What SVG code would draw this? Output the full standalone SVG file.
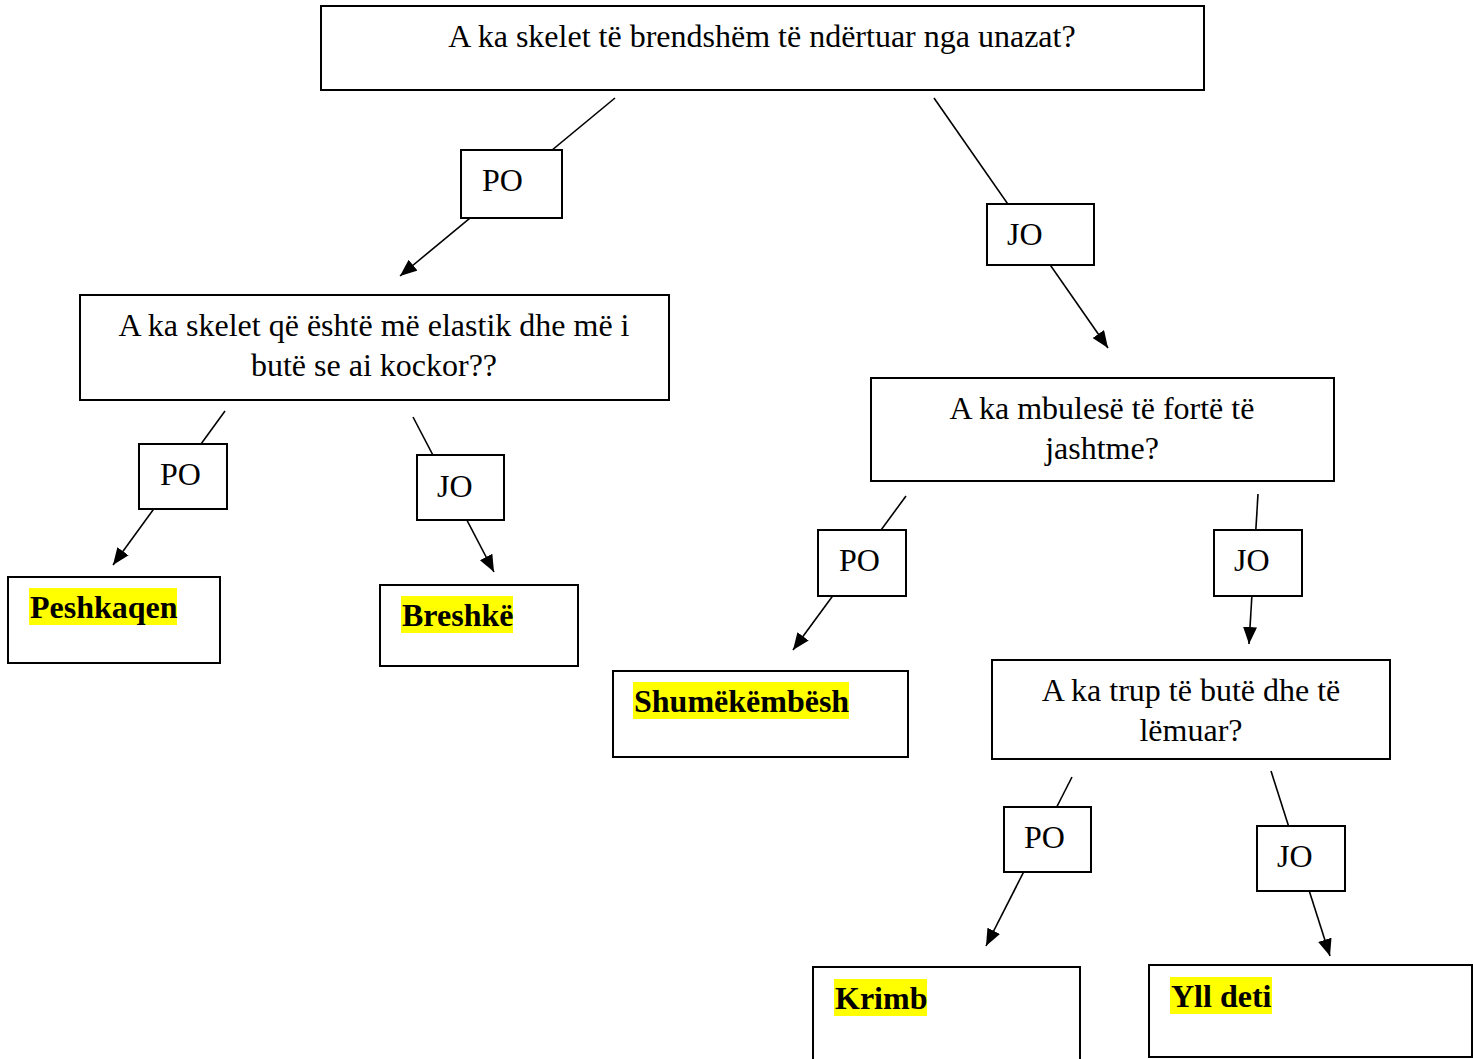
<svg xmlns="http://www.w3.org/2000/svg" width="1473" height="1059" viewBox="0 0 1473 1059">
<defs>
<marker id="arr" markerUnits="userSpaceOnUse" markerWidth="18" markerHeight="14" refX="17" refY="7" orient="auto">
<path d="M0,0 L17,7 L0,14 z" fill="#000"/>
</marker>
<style>
.box{fill:#fff;stroke:#000;stroke-width:2}
.lbl{fill:#fff;stroke:#000;stroke-width:2}
.t{font-family:"Liberation Serif","Times New Roman",serif;font-size:32px;fill:#000}
.c{text-anchor:middle}
.b{font-weight:bold}
.hl{fill:#ffff00}
.ln{stroke:#000;stroke-width:1.6;fill:none}
</style>
</defs>
<rect width="1473" height="1059" fill="#fff"/>
<g id="connectors">
<line class="ln" x1="615" y1="98" x2="400" y2="276" marker-end="url(#arr)"/>
<line class="ln" x1="934" y1="98" x2="1108" y2="348" marker-end="url(#arr)"/>
<line class="ln" x1="225" y1="411" x2="113" y2="565" marker-end="url(#arr)"/>
<line class="ln" x1="413" y1="417" x2="494" y2="572" marker-end="url(#arr)"/>
<line class="ln" x1="906" y1="496" x2="793" y2="650" marker-end="url(#arr)"/>
<line class="ln" x1="1258" y1="494" x2="1249" y2="644" marker-end="url(#arr)"/>
<line class="ln" x1="1072" y1="777" x2="986" y2="946" marker-end="url(#arr)"/>
<line class="ln" x1="1271" y1="771" x2="1330" y2="956" marker-end="url(#arr)"/>
</g>
<g id="q1">
<rect class="box" x="321" y="6" width="883" height="84"/>
<text class="t c" x="762" y="47">A ka skelet të brendshëm të ndërtuar nga unazat?</text>
</g>
<g id="l1"><rect class="lbl" x="461" y="150" width="101" height="68"/><text class="t" x="482" y="191">PO</text></g>
<g id="l2"><rect class="lbl" x="987" y="204" width="107" height="61"/><text class="t" x="1007" y="245">JO</text></g>
<g id="q2">
<rect class="box" x="80" y="295" width="589" height="105"/>
<text class="t c" x="374" y="336">A ka skelet që është më elastik dhe më i</text>
<text class="t c" x="374" y="376">butë se ai kockor??</text>
</g>
<g id="l3"><rect class="lbl" x="139" y="444" width="88" height="65"/><text class="t" x="160" y="485">PO</text></g>
<g id="l4"><rect class="lbl" x="417" y="455" width="87" height="65"/><text class="t" x="437" y="497">JO</text></g>
<g id="a1">
<rect class="box" x="8" y="577" width="212" height="86"/>
<rect class="hl" x="29" y="588" width="148" height="37"/>
<text class="t b" x="30" y="618">Peshkaqen</text>
</g>
<g id="a2">
<rect class="box" x="380" y="585" width="198" height="81"/>
<rect class="hl" x="401" y="596" width="112" height="37"/>
<text class="t b" x="402" y="626">Breshkë</text>
</g>
<g id="q3">
<rect class="box" x="871" y="378" width="463" height="103"/>
<text class="t c" x="1102" y="419">A ka mbulesë të fortë të</text>
<text class="t c" x="1102" y="459">jashtme?</text>
</g>
<g id="l5"><rect class="lbl" x="818" y="530" width="88" height="66"/><text class="t" x="839" y="571">PO</text></g>
<g id="l6"><rect class="lbl" x="1214" y="530" width="88" height="66"/><text class="t" x="1234" y="571">JO</text></g>
<g id="a3">
<rect class="box" x="613" y="671" width="295" height="86"/>
<rect class="hl" x="633" y="682" width="216" height="37"/>
<text class="t b" x="634" y="712">Shumëkëmbësh</text>
</g>
<g id="q4">
<rect class="box" x="992" y="660" width="398" height="99"/>
<text class="t c" x="1191" y="701">A ka trup të butë dhe të</text>
<text class="t c" x="1191" y="741">lëmuar?</text>
</g>
<g id="l7"><rect class="lbl" x="1004" y="807" width="87" height="65"/><text class="t" x="1024" y="848">PO</text></g>
<g id="l8"><rect class="lbl" x="1257" y="826" width="88" height="65"/><text class="t" x="1277" y="867">JO</text></g>
<g id="a4">
<rect class="box" x="813" y="967" width="267" height="100"/>
<rect class="hl" x="834" y="979" width="93" height="37"/>
<text class="t b" x="835" y="1009">Krimb</text>
</g>
<g id="a5">
<rect class="box" x="1149" y="965" width="323" height="92"/>
<rect class="hl" x="1170" y="977" width="102" height="37"/>
<text class="t b" x="1171" y="1007">Yll deti</text>
</g>
</svg>
